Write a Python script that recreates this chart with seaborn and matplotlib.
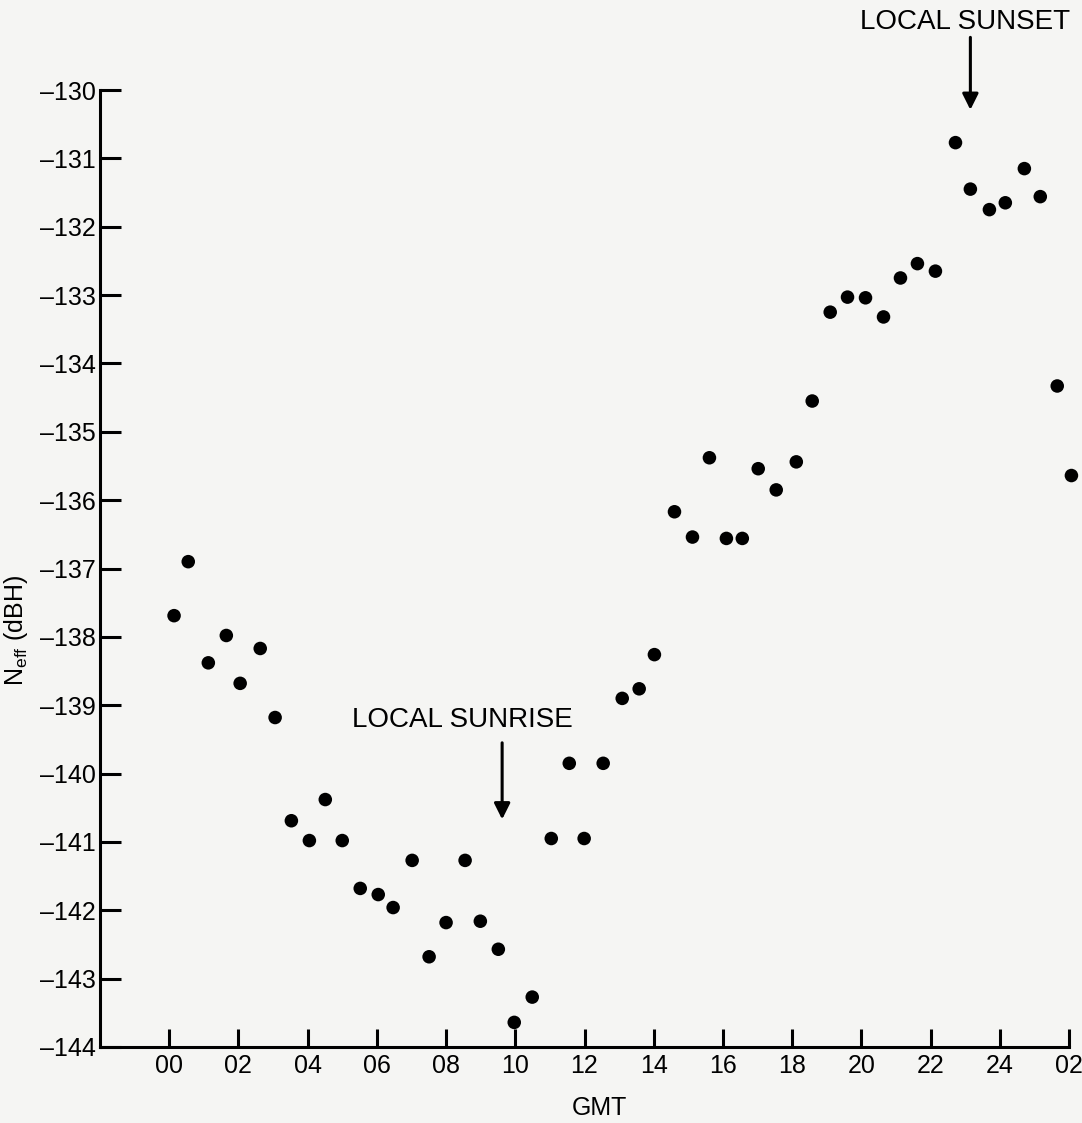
import numpy as np
import pandas as pd
import matplotlib
matplotlib.use('Agg')
import matplotlib.pyplot as plt
import seaborn as sns

# ==========================================================
# DATA
# ==========================================================
gmt_hours = [0.14, 0.55, 1.13, 1.65, 2.05, 2.63, 3.06, 3.53, 4.05, 4.51,
             5.00, 5.52, 6.04, 6.47, 7.02, 7.51, 8.00, 8.55, 8.99, 9.51,
             9.97, 10.49, 11.04, 11.56, 11.99, 12.54, 13.09, 13.58, 14.02, 14.60,
             15.12, 15.61, 16.10, 16.56, 17.02, 17.54, 18.12, 18.58, 19.10, 19.60,
             20.12, 20.64, 21.13, 21.62, 22.14, 22.72, 23.15, 23.70, 24.16, 24.71,
             25.17, 25.66, 26.07]
neff_dbh = [-137.69, -136.90, -138.38, -137.98, -138.68, -138.17, -139.18, -140.69, -140.98, -140.38,
            -140.98, -141.68, -141.77, -141.96, -141.27, -142.68, -142.18, -141.27, -142.16, -142.57,
            -143.64, -143.27, -140.95, -139.85, -140.95, -139.85, -138.90, -138.76, -138.26, -136.17,
            -136.54, -135.38, -136.56, -136.56, -135.54, -135.85, -135.44, -134.55, -133.25, -133.03,
            -133.04, -133.32, -132.75, -132.54, -132.65, -130.77, -131.45, -131.75, -131.65, -131.15,
            -131.56, -134.33, -135.64]

x_ticks = list(range(0, 27, 2))
x_tick_labels = ['00', '02', '04', '06', '08', '10', '12', '14', '16', '18',
                 '20', '22', '24', '02']
y_ticks = list(range(-144, -129))

sunrise_hour = 9.62
sunset_hour = 23.15

df = pd.DataFrame({'GMT': gmt_hours, 'Neff': neff_dbh})

# ==========================================================
# PLOT
# ==========================================================
sns.set_style('ticks')
plt.rcParams['font.family'] = ['Liberation Sans', 'DejaVu Sans']

bg = '#f5f5f3'
fs = 18
fig = plt.figure(figsize=(10.82, 11.23), dpi=100, facecolor=bg)
ax = fig.add_axes([100 / 1082, 76 / 1123, 969 / 1082, 957 / 1123])
ax.set_facecolor(bg)

sns.scatterplot(data=df, x='GMT', y='Neff', ax=ax, color='black', s=95,
                edgecolor='none', clip_on=False, zorder=3)

ax.set_xlim(-2, 26)
ax.set_ylim(-144, -130)
ax.set_xticks(x_ticks)
ax.set_xticklabels(x_tick_labels)
ax.set_yticks(y_ticks)
ax.set_yticklabels([f'\u2013{abs(v)}' for v in y_ticks])

for side in ['top', 'right']:
    ax.spines[side].set_visible(False)
for side in ['left', 'bottom']:
    ax.spines[side].set_linewidth(2.2)
    ax.spines[side].set_color('black')

ax.tick_params(axis='both', direction='in', width=2.2, color='black',
               labelsize=fs, labelcolor='black')
ax.tick_params(axis='y', length=15, pad=3)
ax.tick_params(axis='x', length=13, pad=5)

ax.set_xlabel('GMT', fontsize=fs, color='black', va='center')
ax.xaxis.set_label_coords(0.515, -0.064)
ax.set_ylabel(r'$\mathregular{N_{eff}}$ (dBH)', fontsize=fs, color='black')
ax.yaxis.set_label_coords(-0.072, 0.435)

# Annotations
ax.text(sunrise_hour - 1.15, -139.21, 'LOCAL SUNRISE', ha='center', va='center',
        fontsize=20, color='black')
ax.annotate('', xy=(sunrise_hour, -140.67), xytext=(sunrise_hour, -139.55),
            arrowprops=dict(arrowstyle='-|>', color='black', lw=2.2,
                            mutation_scale=24, shrinkA=0, shrinkB=0))

ax.text(sunset_hour - 0.15, -129.0, 'LOCAL SUNSET', ha='center', va='center',
        fontsize=20, color='black', clip_on=False)
ax.annotate('', xy=(sunset_hour, -130.29), xytext=(sunset_hour, -129.23),
            arrowprops=dict(arrowstyle='-|>', color='black', lw=2.2,
                            mutation_scale=24, shrinkA=0, shrinkB=0),
            annotation_clip=False)

fig.savefig('out.png', dpi=100, facecolor=bg)
